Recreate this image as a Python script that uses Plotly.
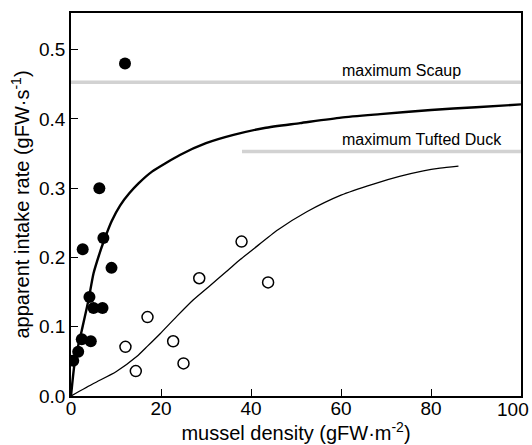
import plotly.graph_objects as go

# Scaup (filled) observations
scaup_x = [0.5, 1.6, 2.4, 2.6, 4.1, 4.4, 5.0, 6.3, 7.0, 7.2, 9.0, 12.0]
scaup_y = [0.051, 0.064, 0.082, 0.212, 0.143, 0.079, 0.127, 0.300, 0.127, 0.228, 0.185, 0.480]

# Tufted Duck (open) observations
tufted_x = [12.1, 14.4, 17.0, 22.7, 25.0, 28.5, 37.9, 43.8]
tufted_y = [0.071, 0.036, 0.114, 0.079, 0.047, 0.170, 0.223, 0.164]

# fitted curves
fit_scaup_x = [0, 0.9, 2.4, 3.9, 5.0, 6.3, 7.2, 9.0, 10.9, 13.0, 15.0, 18.0, 24.2,
               30.0, 36.1, 43.0, 50.9, 60.0, 68.7, 80.0, 90.0, 100.0]
fit_scaup_y = [0, 0.052, 0.095, 0.139, 0.177, 0.205, 0.222, 0.252, 0.275, 0.293, 0.307,
               0.324, 0.348, 0.365, 0.377, 0.387, 0.394, 0.402, 0.407, 0.413, 0.417, 0.421]
fit_tufted_x = [0, 5.0, 10.0, 14.6, 17.0, 19.8, 23.5, 27.2, 31.0, 34.6, 37.6, 40.5,
                46.0, 52.4, 60.0, 67.2, 73.0, 78.3, 82.0, 86.1]
fit_tufted_y = [0, 0.018, 0.035, 0.057, 0.072, 0.090, 0.115, 0.139, 0.160, 0.180, 0.197,
                0.212, 0.240, 0.266, 0.290, 0.306, 0.317, 0.325, 0.329, 0.332]

# maximum intake rates
max_labels = ["maximum Scaup", "maximum Tufted Duck"]
max_y = [0.453, 0.353]
max_x0 = [0, 38]
max_x1 = [100, 100]
label_x = [73.5, 78.1]

x_ticks = [0, 20, 40, 60, 80, 100]
x_ticktext = ["0", "20", "40", "60", "80", ""]   # last label drawn separately so it fits
last_x_label = "100"
y_ticks = [0.0, 0.1, 0.2, 0.3, 0.4, 0.5]

FONT = "Liberation Sans, Arial, Helvetica, sans-serif"

fig = go.Figure()

for y, x0, x1 in zip(max_y, max_x0, max_x1):
    fig.add_trace(go.Scatter(x=[x0, x1], y=[y, y], mode="lines",
                             line=dict(color="#d2d2d2", width=3.5), hoverinfo="skip"))

fig.add_trace(go.Scatter(x=fit_scaup_x, y=fit_scaup_y, mode="lines",
                         line=dict(color="black", width=2.4, shape="spline", smoothing=0.6)))
fig.add_trace(go.Scatter(x=fit_tufted_x, y=fit_tufted_y, mode="lines",
                         line=dict(color="black", width=1.3, shape="spline", smoothing=0.6)))

fig.add_trace(go.Scatter(x=scaup_x, y=scaup_y, mode="markers",
                         marker=dict(color="black", size=12, line=dict(width=0))))
fig.add_trace(go.Scatter(x=tufted_x, y=tufted_y, mode="markers",
                         marker=dict(color="white", size=11, symbol="circle",
                                     line=dict(color="black", width=1.5))))

for lab, lx, y in zip(max_labels, label_x, max_y):
    fig.add_annotation(x=lx, y=y, text=lab, showarrow=False, xref="x", yref="y",
                       yshift=12, font=dict(size=16, color="black", family=FONT))

fig.add_annotation(x=x_ticks[-1], y=0, xref="x", yref="paper", text=last_x_label,
                   showarrow=False, xanchor="right", yanchor="top", xshift=10, yshift=-1,
                   font=dict(size=19, color="black", family=FONT))

axis_common = dict(showgrid=False, zeroline=False, showline=True, linecolor="black",
                   linewidth=1.5, mirror=True, ticks="inside", ticklen=7, tickwidth=1.2,
                   tickcolor="black", automargin=False,
                   tickfont=dict(size=19, color="black", family=FONT))

fig.update_xaxes(range=[0, 100], tickvals=x_ticks, ticktext=x_ticktext,
                 ticklabelstandoff=-6,
                 title=dict(text="mussel density (gFW·m<sup>-2</sup>)", standoff=4,
                            font=dict(size=20, color="black", family=FONT)),
                 **axis_common)
fig.update_yaxes(range=[0, 0.553], tickvals=y_ticks, tickformat=".1f",
                 title=dict(text="apparent intake rate (gFW·s<sup>-1</sup>)", standoff=4,
                            font=dict(size=20, color="black", family=FONT)),
                 **axis_common)

fig.update_layout(width=532, height=445, showlegend=False,
                  paper_bgcolor="white", plot_bgcolor="white",
                  margin=dict(l=71, r=11, t=13, b=49))

fig.write_html("out.html")
